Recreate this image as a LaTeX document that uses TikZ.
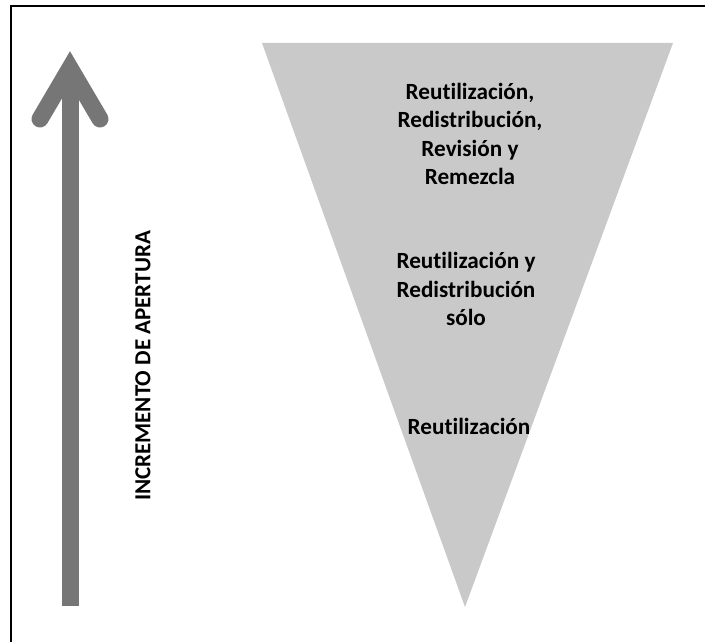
\documentclass[tikz,border=0pt]{standalone}
\usepackage{fontspec}
\setmainfont{Carlito}[Ligatures=NoCommon]
\definecolor{arrowgray}{HTML}{767676}
\definecolor{funnelgray}{HTML}{C9C9C9}
\tikzset{
  label text/.style={font=\bfseries\fontsize{23.2}{28.2}\selectfont, align=center, inner sep=0pt},
  axis text/.style={font=\bfseries\fontsize{23}{26}\selectfont, inner sep=0pt, rotate=90}
}
\begin{document}
\begin{tikzpicture}[x=1pt, y=-1pt]
\useasboundingbox (0,0) rectangle (705,642);
% Frame
\draw[line width=2.2pt] (11,660) -- (11,6) -- (720,6);
% Define the corners
\coordinate (left) at (262,43);
\coordinate (right) at (673,43);
\coordinate (apex) at (465,607);
\coordinate (base) at (70,606);
\coordinate (tip) at (70,68);
% Draw the funnel and the arrow
\fill[funnelgray] (left) -- (right) -- (apex) -- cycle;
\draw[arrowgray, line width=17pt] (base) -- ([yshift=-12pt]tip);
\draw[arrowgray, line width=17pt, line cap=round, line join=miter] ([xshift=-30pt, yshift=-51pt]tip) -- (tip) -- ([xshift=30pt, yshift=-51pt]tip);
% Define the nodes
\node[label text] at (470,134) (all) {Reutilización,\\Redistribución,\\Revisión y\\Remezcla};
\node[label text] at (466,289) (some) {Reutilización y\\Redistribución\\sólo};
\node[label text] at (469,426) (reuse) {Reutilización};
\node[axis text] at (143,366) (axis) {INCREMENTO DE APERTURA};
\end{tikzpicture}
\end{document}
